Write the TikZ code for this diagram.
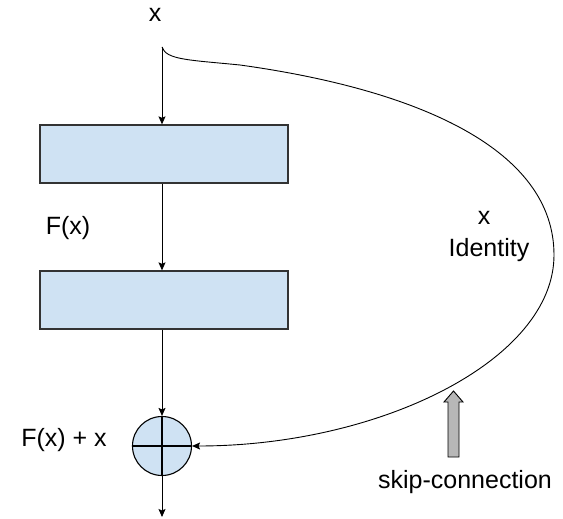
\documentclass[tikz,border=0pt]{standalone}
\usepackage{fontspec}
\setmainfont{Liberation Sans}
\usetikzlibrary{arrows.meta}
\definecolor{boxfill}{HTML}{CFE2F3}
\definecolor{boxline}{HTML}{333333}
\definecolor{grayarrow}{HTML}{B7B7B7}
\tikzset{
  blockbox/.style={draw=boxline, line width=1.3pt, fill=boxfill, minimum width=248pt, minimum height=58pt, inner sep=0pt},
  sumcirc/.style={draw=black, line width=1.1pt, fill=boxfill, circle, minimum size=59pt, inner sep=0pt},
  lbl/.style={font=\fontsize{25}{30}\selectfont, inner sep=0pt, text=black},
  conn/.style={line width=0.9pt, -{Stealth[length=8pt,width=7pt,inset=1.5pt]}},
}
\begin{document}
\begin{tikzpicture}[x=1pt,y=-1pt]
\useasboundingbox (0,0) rectangle (563,519);
\fill[white] (0,0) rectangle (563,519);
\node[lbl] (xlab) at (155,15) {x};
\coordinate (xin) at (162,47);
\node[blockbox] (b1) at (164,154) {};
\node[blockbox] (b2) at (164,300) {};
\node[sumcirc] (c) at (162,446) {};
\draw[line width=1.1pt] (c.north) -- (c.south) (c.west) -- (c.east);
\coordinate (out) at (162,517);
\node[lbl] (fx) at (68,228) {F(x)};
\node[lbl] (fxx) at (64,440) {F(x) + x};
\node[lbl] (idx) at (484,218) {x};
\node[lbl] (ident) at (489,250) {Identity};
\node[lbl] (skip) at (465,482) {skip-connection};
\draw[conn] (xin) -- (b1.north -| xin);
\draw[conn] (b1.south -| xin) -- (b2.north -| xin);
\draw[conn] (b2.south -| xin) -- (c.north);
\draw[conn] (c.south) -- (out);
\draw[conn] (xin) .. controls (166,60) and (190,60) .. (240,65)
  .. controls (420,90) and (554,150) .. (554,255)
  .. controls (554,360) and (380,446) .. (c.east);
\draw[line width=0.9pt, fill=grayarrow] (448,457) -- (448,402) -- (444,402) -- (453.5,391) -- (463,402) -- (459,402) -- (459,457) -- cycle;
\end{tikzpicture}
\end{document}
